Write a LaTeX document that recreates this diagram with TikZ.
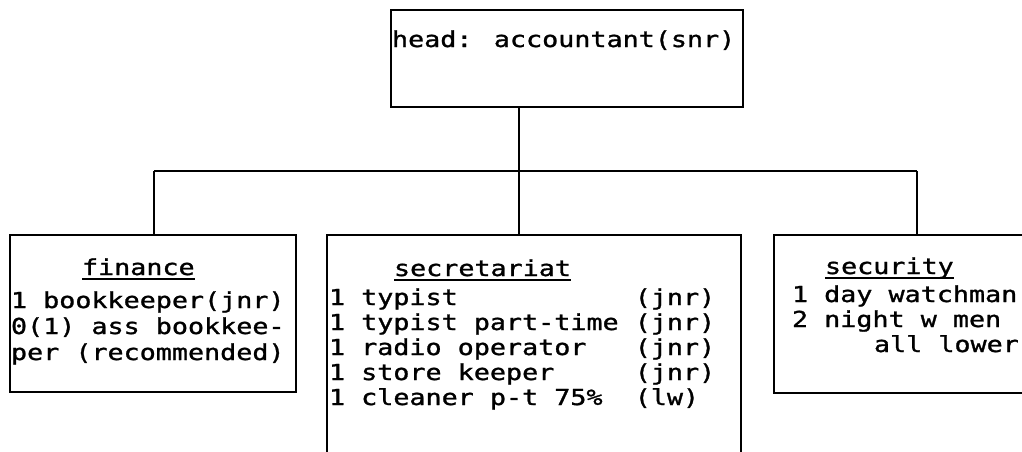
\documentclass[tikz,border=0pt]{standalone}
\usepackage{fontspec}
% wide-set sans typewriter face
\newfontfamily\orgfont[FakeStretch=1.215,FakeBold=1.2]{DejaVu Sans Mono}
\begin{document}
\begin{tikzpicture}[x=1pt,y=-1pt,
  box/.style={draw, line width=2.4pt, rectangle, inner sep=0pt, outer sep=0pt, anchor=north west},
  wire/.style={line width=2.4pt},
  txt/.style={anchor=base west, inner sep=0pt, outer sep=0pt,
              font=\orgfont\fontsize{22}{25}\selectfont},
  uline/.style={line width=1.5pt}]
\useasboundingbox (0,0) rectangle (1022,451);
\fill[white] (0,0) rectangle (1022,451);
\clip (0,0) rectangle (1022,451);

% boxes
\node[box, minimum width=352pt, minimum height=97pt]  (head) at (391,10) {};
\node[box, minimum width=286pt, minimum height=157pt] (fin)  at (10,235) {};
\node[box, minimum width=414pt, minimum height=265pt] (sec)  at (327,235) {};
\node[box, minimum width=286pt, minimum height=158pt] (secu) at (774,235) {};

% head
\node[txt] (head-t) at (392,47) {head: accountant(snr)};

% finance
\node[txt] (fin-t) at (82,275) {finance};
\node[txt] (fin-1) at (11,308) {1 bookkeeper(jnr)};
\node[txt] (fin-2) at (11,334) {0(1) ass bookkee-};
\node[txt] (fin-3) at (11,360) {per (recommended)};
\draw[uline] ([yshift=-4pt]fin-t.base west) -- ([yshift=-4pt]fin-t.base east);

% secretariat
\node[txt] (sec-t) at (394,276) {secretariat};
\node[txt] (sec-1) at (329,305) {1 typist~~~~~~~~~~~(jnr)};
\node[txt] (sec-2) at (329,330) {1 typist part-time (jnr)};
\node[txt] (sec-3) at (329,355) {1 radio operator~~~(jnr)};
\node[txt] (sec-4) at (329,380) {1 store keeper~~~~~(jnr)};
\node[txt] (sec-5) at (329,405) {1 cleaner p-t 75\%~~(lw)};
\draw[uline] ([yshift=-4pt]sec-t.base west) -- ([yshift=-4pt]sec-t.base east);

% security
\node[txt] (secu-t) at (825,274) {security};
\node[txt] (secu-1) at (792,302) {1 day watchman};
\node[txt] (secu-2) at (792,327) {2 night w men};
\node[txt] (secu-3) at (874,352) {all lower};
\draw[uline] ([yshift=-4pt]secu-t.base west) -- ([yshift=-4pt]secu-t.base east);

% connectors
\coordinate (bus-l) at (154,171);
\coordinate (bus-m) at (519,171);
\coordinate (bus-r) at (917,171);
\draw[wire] (head.south -| bus-m) -- (bus-m);
\draw[wire] (bus-l) -- (bus-r);
\draw[wire] (bus-l) -- (bus-l |- fin.north);
\draw[wire] (bus-m) -- (bus-m |- sec.north);
\draw[wire] (bus-r) -- (bus-r |- secu.north);
\end{tikzpicture}
\end{document}
